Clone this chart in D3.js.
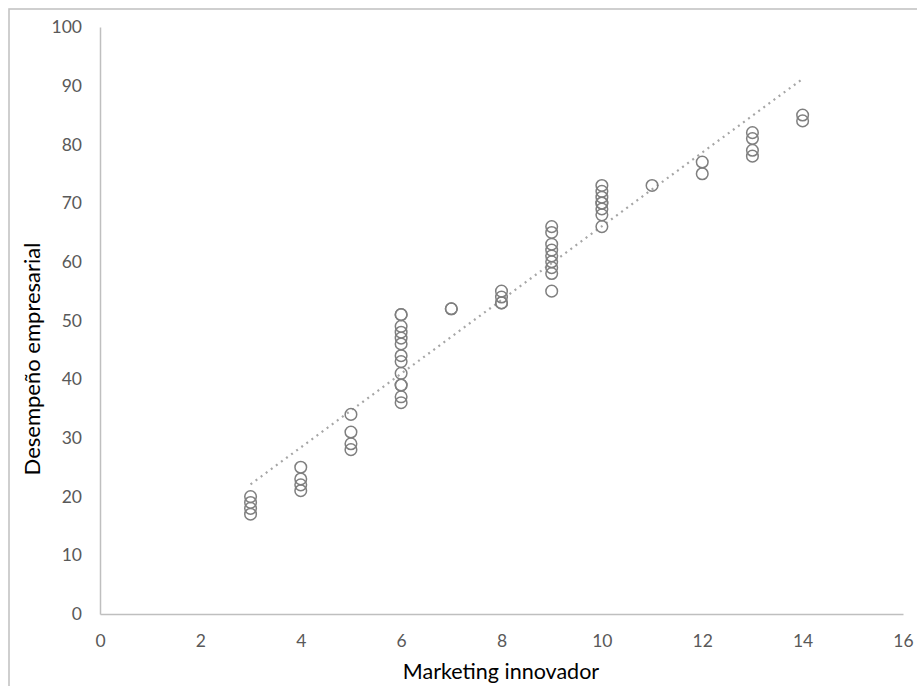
<!DOCTYPE html>
<html>
<head>
<meta charset="utf-8">
<script src="https://cdn.jsdelivr.net/npm/d3@7"></script>
<style>
  html, body { margin: 0; padding: 0; background: #fff; }
  svg { display: block; }
</style>
</head>
<body>
<svg id="chart" width="917" height="686"></svg>
<script>
// Marketing innovador (x) vs. Desempeño empresarial (y)
const marketing = [
  3, 3, 3, 3,
  4, 4, 4, 4,
  5, 5, 5, 5,
  6, 6, 6, 6, 6, 6, 6, 6, 6, 6, 6, 6, 6,
  7, 7,
  8, 8, 8, 8,
  9, 9, 9, 9, 9, 9, 9, 9, 9,
  10, 10, 10, 10, 10, 10, 10, 10,
  11,
  12, 12,
  13, 13, 13, 13,
  14, 14
];
const desempeno = [
  20, 19, 18, 17,
  25, 23, 22, 21,
  34, 31, 29, 28,
  51, 51, 49, 48, 47, 46, 44, 43, 41, 39, 39, 37, 36,
  52, 52,
  55, 54, 53, 53,
  66, 65, 63, 62, 61, 60, 59, 58, 55,
  73, 72, 71, 70, 70, 69, 68, 66,
  73,
  77, 75,
  82, 81, 79, 78,
  85, 84
];
const xTicks = [0, 2, 4, 6, 8, 10, 12, 14, 16];
const yTicks = [0, 10, 20, 30, 40, 50, 60, 70, 80, 90, 100];

const svg = d3.select("#chart");
const font = "Lato, 'Open Sans', sans-serif";

// outer chart border (partly cut off at right and bottom)
svg.append("rect")
  .attr("x", 9).attr("y", 9)
  .attr("width", 940).attr("height", 700)
  .attr("fill", "none")
  .attr("stroke", "#c4c4c4")
  .attr("stroke-width", 1.6);

const x = d3.scaleLinear().domain([0, 16]).range([100, 903]);
const y = d3.scaleLinear().domain([0, 100]).range([614, 27]);

// axes
const xAxis = d3.axisBottom(x).tickValues(xTicks).tickSize(0).tickPadding(21);
const yAxis = d3.axisLeft(y).tickValues(yTicks).tickSize(0).tickPadding(18);

const gx = svg.append("g").attr("transform", `translate(0,${y(0)})`).call(xAxis);
const gy = svg.append("g").attr("transform", `translate(${x(0)},0)`).call(yAxis);

[gx, gy].forEach(g => {
  g.select(".domain").attr("stroke", "#bfbfbf").attr("stroke-width", 1.5);
  g.selectAll("text")
    .attr("fill", "#595959")
    .style("font-family", font)
    .style("font-size", "17.5px");
});

// linear trend line (least squares)
const n = marketing.length;
const mx = d3.mean(marketing), my = d3.mean(desempeno);
let sxy = 0, sxx = 0;
for (let i = 0; i < n; i++) {
  sxy += (marketing[i] - mx) * (desempeno[i] - my);
  sxx += (marketing[i] - mx) ** 2;
}
const slope = sxy / sxx, intercept = my - slope * mx;
const [x0, x1] = d3.extent(marketing);

svg.append("line")
  .attr("x1", x(x0)).attr("y1", y(intercept + slope * x0))
  .attr("x2", x(x1)).attr("y2", y(intercept + slope * x1))
  .attr("stroke", "#a6a6a6")
  .attr("stroke-width", 2.2)
  .attr("stroke-dasharray", "2 4.3");

// data points
svg.append("g")
  .selectAll("circle")
  .data(marketing.map((m, i) => [m, desempeno[i]]))
  .join("circle")
  .attr("cx", d => x(d[0]))
  .attr("cy", d => y(d[1]))
  .attr("r", 5.8)
  .attr("fill", "none")
  .attr("stroke", "#7f7f7f")
  .attr("stroke-width", 1.5);

// axis titles
svg.append("text")
  .attr("x", 501).attr("y", 679)
  .attr("text-anchor", "middle")
  .attr("fill", "#000")
  .style("font-family", font)
  .style("font-size", "21.5px")
  .text("Marketing innovador");

svg.append("text")
  .attr("transform", "translate(40,359) rotate(-90)")
  .attr("text-anchor", "middle")
  .attr("fill", "#000")
  .style("font-family", font)
  .style("font-size", "22px")
  .text("Desempeño empresarial");
</script>
</body>
</html>
